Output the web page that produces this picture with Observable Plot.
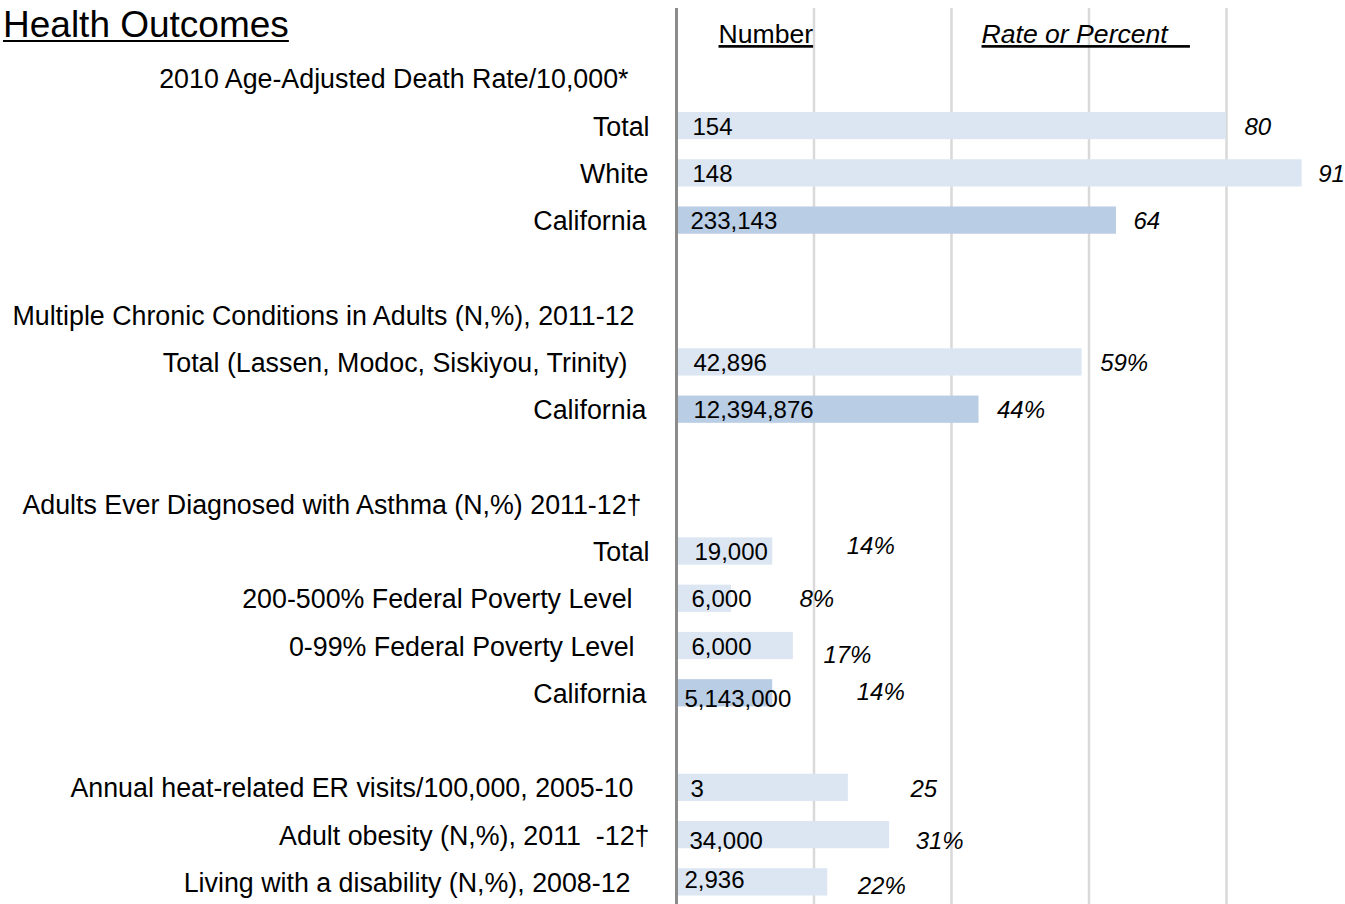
<!DOCTYPE html>
<html>
<head>
<meta charset="utf-8">
<script src="https://cdn.jsdelivr.net/npm/d3@7"></script>
<script src="https://cdn.jsdelivr.net/npm/@observablehq/plot@0.6"></script>
<style>
  html, body { margin: 0; padding: 0; background: #fff; }
  #wrap { position: relative; width: 1345px; height: 904px; font-family: "Liberation Sans", Arial, sans-serif; }
  #title { position: absolute; left: 3px; top: 6px; font-size: 37px; text-decoration: underline; text-decoration-thickness: 2px; text-underline-offset: 3px; color: #000; margin: 0; font-weight: normal; line-height: 1; }
  #chart svg { display: block; }
</style>
</head>
<body>
<div id="wrap">
  <div id="chart"></div>
  <h1 id="title">Health Outcomes</h1>
</div>
<script>
// ---------- data ----------
const titleText = "Health Outcomes";
const headerNumber = "Number";
const headerRate = "Rate or Percent\u00a0\u00a0\u00a0";
const rowLabels = [
  "",
  "2010 Age-Adjusted Death Rate/10,000*",
  "Total",
  "White",
  "California",
  "",
  "Multiple Chronic Conditions in Adults (N,%), 2011-12",
  "Total (Lassen, Modoc, Siskiyou, Trinity)",
  "California",
  "",
  "Adults Ever Diagnosed with Asthma (N,%) 2011-12\u2020",
  "Total",
  "200-500% Federal Poverty Level",
  "0-99% Federal Poverty Level",
  "California",
  "",
  "Annual heat-related ER visits/100,000, 2005-10",
  "Adult obesity (N,%), 2011  -12\u2020",
  "Living with a disability (N,%), 2008-12"
];
const numberLabels = [null, null, "154", "148", "233,143", null, null, "42,896", "12,394,876", null, null,
  "19,000", "6,000", "6,000", "5,143,000", null, "3", "34,000", "2,936"];
const rateValues = [null, null, 80, 91, 64, null, null, 59, 44, null, null, 14, 8, 17, 14, null, 25, 31, 22];
const rateLabels = [null, null, "80", "91", "64", null, null, "59%", "44%", null, null,
  "14%", "8%", "17%", "14%", null, "25", "31%", "22%"];
const isCalifornia = [false, false, false, false, true, false, false, false, true, false, false,
  false, false, false, true, false, false, false, false];
const gridTicks = [20, 40, 60, 80];

// ---------- layout nudges (pixels, mimic the hand-placed text boxes) ----------
const labelDx = [0, -48, -27, -28, -30, 0, -42, -49, -30, 0, -35, -27, -44, -42, -30, 0, -43, -27, -46];
const numDx   = [0, 0, 16, 16, 14, 0, 0, 17, 17, 0, 0, 18, 15, 15, 8, 0, 14, 13, 8];
const numDy   = [0, 0, 0, 0, 0, 0, 0, 0, 0, 0, 0, 0, 0, 0, 5, 0, 0, 5, -3];
const rateDx  = [0, 0, 18, 16, 17, 0, 0, 18, 18, 0, 0, 74, 68, 30, 84, 0, 62, 26, 30];
const rateDy  = [0, 0, 0, 0, 0, 0, 0, 0, 0, 0, 0, -6, 0, 8, -2, 0, 0, 5, 3];

// ---------- build ----------
const rows = rowLabels.map((label, i) => ({
  id: String(i), label, num: numberLabels[i], value: rateValues[i],
  rate: rateLabels[i], ca: isCalifornia[i]
}));
const barRows = rows.filter(d => d.value != null);
const font = '"Liberation Sans", Arial, sans-serif';

const marks = [];
marks.push(Plot.ruleX(gridTicks, {stroke: "#d9d9d9", strokeWidth: 2.5}));
marks.push(Plot.barX(barRows, {
  x1: 0, x2: "value", y: "id",
  fill: d => d.ca ? "#b9cde5" : "#dce6f2",
  insetTop: 10, insetBottom: 10
}));
marks.push(Plot.ruleX([0], {stroke: "#8c8c8c", strokeWidth: 3}));

rows.forEach((d, i) => {
  if (d.label) {
    marks.push(Plot.text([d], {
      x: () => 0, y: "id", text: "label", textAnchor: "end",
      dx: labelDx[i], dy: 1, fontSize: 26.8, fill: "#000"
    }));
  }
  if (d.num != null) {
    marks.push(Plot.text([d], {
      x: () => 0, y: "id", text: "num", textAnchor: "start",
      dx: numDx[i], dy: numDy[i] + 1, fontSize: 24, fill: "#000"
    }));
  }
  if (d.value != null) {
    marks.push(Plot.text([d], {
      x: "value", y: "id", text: "rate", textAnchor: "start",
      dx: rateDx[i], dy: rateDy[i] + 1, fontSize: 24, fontStyle: "italic", fill: "#000"
    }));
  }
});

marks.push(Plot.text([{id: "0", t: headerNumber}], {
  x: () => 0, y: "id", text: "t", textAnchor: "start", dx: 42, dy: 3,
  fontSize: 26.6, fill: "#000"
}));
marks.push(Plot.text([{id: "0", t: headerRate}], {
  x: () => 0, y: "id", text: "t", textAnchor: "start", dx: 305, dy: 3,
  fontSize: 26.6, fontStyle: "italic", fill: "#000"
}));

const plot = Plot.plot({
  width: 1345,
  height: 904,
  marginLeft: 676,
  marginRight: 9,
  marginTop: 8,
  marginBottom: 0,
  style: {fontFamily: font, fontSize: "24px", background: "#fff", overflow: "visible"},
  x: {domain: [0, 96], axis: null},
  y: {type: "band", domain: rows.map(d => d.id), range: [7.4, 905.5], padding: 0, round: false, axis: null},
  marks
});
document.getElementById("chart").appendChild(plot);
d3.select(plot).selectAll("text")
  .filter(function() { return this.textContent === headerNumber || this.textContent === headerRate; })
  .attr("text-decoration", "underline")
  .style("text-decoration", "underline");
document.getElementById("title").textContent = titleText;
</script>
</body>
</html>
